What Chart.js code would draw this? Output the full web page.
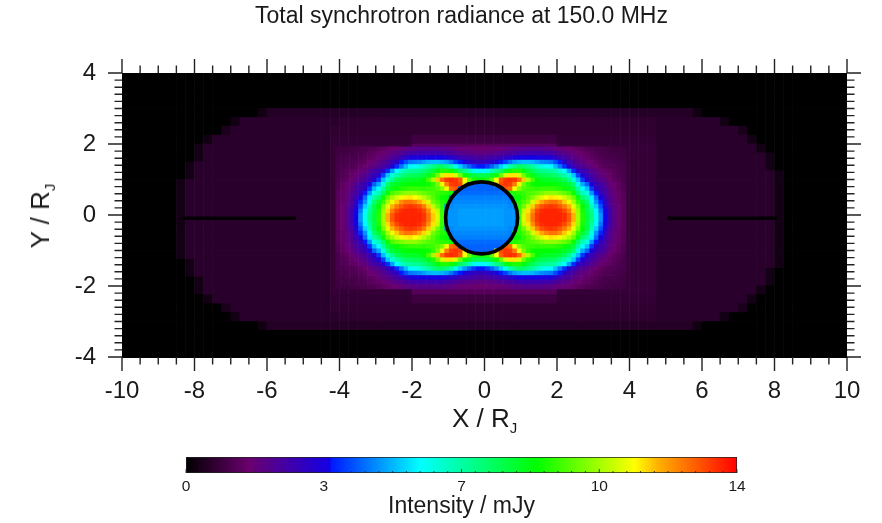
<!DOCTYPE html>
<html>
<head>
<meta charset="utf-8">
<title>Total synchrotron radiance</title>
<script src="https://cdn.jsdelivr.net/npm/chart.js@4/dist/chart.umd.min.js"></script>
<style>
  html, body { margin: 0; padding: 0; background: #fff; }
  #page { position: relative; width: 882px; height: 523px; overflow: hidden; font-family: "Liberation Sans", Arial, sans-serif; color: #1a1a1a; }
  canvas { position: absolute; left: 0; display: block; }
  .axis-label { position: absolute; font-size: 26px; line-height: 28px; white-space: nowrap; }
  .axis-label sub { font-size: 15px; line-height: 0; vertical-align: -6px; }
  #chartTitle { position: absolute; left: 0; width: 923px; top: 1px; text-align: center; font-size: 23px; line-height: 28px; }
  #xLabel { left: 452px; top: 404px; }
  #yLabel { left: 40px; top: 216px; transform: translate(-50%, -50%) rotate(-90deg); }
</style>
</head>
<body>
<div id="page">
  <canvas id="mapChart" width="882" height="440" style="top:0"></canvas>
  <canvas id="barChart" width="882" height="83" style="top:440px"></canvas>
  <div id="chartTitle">Total synchrotron radiance at 150.0 MHz</div>
  <div id="xLabel" class="axis-label">X / R<sub>J</sub></div>
  <div id="yLabel" class="axis-label">Y / R<sub>J</sub></div>
</div>
<script>
// ---- tick labels
const xTickLabels = [-10, -8, -6, -4, -2, 0, 2, 4, 6, 8, 10];
const yTickLabels = [-4, -2, 0, 2, 4];
const barTickValues = [0, 3.5, 7, 10.5, 14];
const barTickLabels = ['0', '3', '7', '10', '14'];

// ---- colour table (mJy -> rgb)
const stopValues = [0, 1.6, 3.65, 3.7, 5.95, 8.9, 11.4, 12, 14];
const stopColors = [[0,0,0], [106,0,110], [20,0,230], [0,25,255], [0,255,255], [0,255,0], [255,255,0], [255,176,0], [255,0,0]];

// ---- dark slits and planet outline
const slitLeftX = [-8.33, -5.2];
const slitRightX = [5.05, 8.08];
const slitY = [-0.09, -0.09];
const planetX = [-0.08];
const planetY = [-0.08];

// ---- whole map, 0.25 R_J cells, top row first. _ = cell is covered by the fine core grid
const _ = null;
const wideRows = [
[0,0,0,0,0,0,0,0,0,0,0,0,0,0,0,0,0,0,0,0,0,0,0,0,0,0,0,0,0,0,0,0,0,0,0,0,0,0,0,0,0,0,0,0,0,0,0,0,0,0,0,0,0,0,0,0,0,0,0,0,0,0,0,0,0,0,0,0,0,0,0,0,0,0,0,0,0,0,0,0],
[0,0,0,0,0,0,0,0,0,0,0,0,0,0,0,0,0,0,0,0,0,0,0,0,0,0,0,0,0,0,0,0,0,0,0,0,0,0,0,0,0,0,0,0,0,0,0,0,0,0,0,0,0,0,0,0,0,0,0,0,0,0,0,0,0,0,0,0,0,0,0,0,0,0,0,0,0,0,0,0],
[0,0,0,0,0,0,0,0,0,0,0,0,0,0,0,0,0,0,0,0,0,0,0,0,0,0,0,0,0,0,0,0,0,0,0,0,0,0,0,0,0,0,0,0,0,0,0,0,0,0,0,0,0,0,0,0,0,0,0,0,0,0,0,0,0,0,0,0,0,0,0,0,0,0,0,0,0,0,0,0],
[0,0,0,0,0,0,0,0,0,0,0,0,0,0,0,0,0,0,0,0,0,0,0,0,0,0,0,0,0,0,0,0,0,0,0,0,0,0,0,0,0,0,0,0,0,0,0,0,0,0,0,0,0,0,0,0,0,0,0,0,0,0,0,0,0,0,0,0,0,0,0,0,0,0,0,0,0,0,0,0],
[0,0,0,0,0,0,0,0,0,0,0,0,0,0,0,.25,.55,.55,.55,.55,.55,.55,.55,.55,.55,.55,.55,.55,.55,.55,.55,.55,.55,.55,.55,.55,.55,.55,.55,.55,.55,.55,.55,.55,.55,.55,.55,.55,.55,.55,.55,.55,.55,.55,.55,.55,.55,.55,.55,.55,.55,.55,.55,.25,0,0,0,0,0,0,0,0,0,0,0,0,0,0,0,0],
[0,0,0,0,0,0,0,0,0,0,0,0,.3,.62,.62,.62,.62,.62,.62,.62,.62,.62,.62,.62,.68,.68,.68,.68,.68,.68,.68,.68,.68,.68,.68,.68,.68,.68,.68,.68,.68,.68,.68,.68,.68,.68,.68,.68,.68,.68,.68,.68,.68,.68,.68,.68,.68,.68,.68,.62,.62,.62,.62,.62,.62,.62,.3,0,0,0,0,0,0,0,0,0,0,0,0,0],
[0,0,0,0,0,0,0,0,0,0,0,.4,.62,.62,.62,.62,.62,.62,.62,.62,.62,.62,.62,.72,.72,.72,.72,.72,.72,.72,.72,.72,.72,.72,.72,.72,.72,.72,.72,.72,.72,.72,.72,.72,.72,.72,.72,.72,.72,.72,.72,.72,.72,.72,.72,.72,.72,.72,.72,.62,.62,.62,.62,.62,.62,.62,.62,.62,.4,0,0,0,0,0,0,0,0,0,0,0],
[0,0,0,0,0,0,0,0,0,.25,.62,.62,.62,.62,.62,.62,.62,.62,.62,.62,.62,.62,.62,.75,.75,.75,.75,.75,.75,.75,.75,.75,.95,.95,.95,.95,.95,.95,.95,.95,.95,.95,.95,.95,.95,.95,.95,.95,.75,.75,.75,.75,.75,.75,.75,.75,.75,.75,.75,.62,.62,.62,.62,.62,.62,.62,.62,.62,.62,.3,0,0,0,0,0,0,0,0,0,0],
[0,0,0,0,0,0,0,0,.3,.62,.62,.62,.62,.62,.62,.62,.62,.62,.62,.62,.62,.62,.62,.8,.8,.8,.8,.8,.8,.8,.8,.8,1.3,1.3,1.3,1.3,1.3,1.3,1.3,1.3,1.3,1.3,1.3,1.3,1.3,1.3,1.3,1.3,.8,.8,.8,.8,.8,.8,.8,.8,.8,.8,.8,.62,.62,.62,.62,.62,.62,.62,.62,.62,.62,.62,.3,0,0,0,0,0,0,0,0,0],
[0,0,0,0,0,0,0,0,.3,.62,.62,.62,.62,.62,.62,.62,.62,.62,.62,.62,.62,.62,.62,.78,_,_,_,_,_,_,_,_,_,_,_,_,_,_,_,_,_,_,_,_,_,_,_,_,_,_,_,_,_,_,_,.85,.78,.78,.78,.62,.62,.62,.62,.62,.62,.62,.62,.62,.62,.62,.62,.3,0,0,0,0,0,0,0,0],
[0,0,0,0,0,0,0,.3,.62,.62,.62,.62,.62,.62,.62,.62,.62,.62,.62,.62,.62,.62,.62,.78,_,_,_,_,_,_,_,_,_,_,_,_,_,_,_,_,_,_,_,_,_,_,_,_,_,_,_,_,_,_,_,.85,.78,.78,.78,.62,.62,.62,.62,.62,.62,.62,.62,.62,.62,.62,.62,.3,0,0,0,0,0,0,0,0],
[0,0,0,0,0,0,0,.3,.62,.62,.62,.62,.62,.62,.62,.62,.62,.62,.62,.62,.62,.62,.62,.78,_,_,_,_,_,_,_,_,_,_,_,_,_,_,_,_,_,_,_,_,_,_,_,_,_,_,_,_,_,_,_,.85,.78,.78,.78,.62,.62,.62,.62,.62,.62,.62,.62,.62,.62,.62,.62,.62,.3,0,0,0,0,0,0,0],
[0,0,0,0,0,0,.3,.62,.62,.62,.62,.62,.62,.62,.62,.62,.62,.62,.62,.62,.62,.62,.62,.78,_,_,_,_,_,_,_,_,_,_,_,_,_,_,_,_,_,_,_,_,_,_,_,_,_,_,_,_,_,_,_,.85,.78,.78,.78,.62,.62,.62,.62,.62,.62,.62,.62,.62,.62,.62,.62,.62,.3,0,0,0,0,0,0,0],
[0,0,0,0,0,0,.3,.62,.62,.62,.62,.62,.62,.62,.62,.62,.62,.62,.62,.62,.62,.62,.62,.78,_,_,_,_,_,_,_,_,_,_,_,_,_,_,_,_,_,_,_,_,_,_,_,_,_,_,_,_,_,_,_,.85,.78,.78,.78,.62,.62,.62,.62,.62,.62,.62,.62,.62,.62,.62,.62,.62,.3,0,0,0,0,0,0,0],
[0,0,0,0,0,0,.3,.62,.62,.62,.62,.62,.62,.62,.62,.62,.62,.62,.62,.62,.62,.62,.62,.78,_,_,_,_,_,_,_,_,_,_,_,_,_,_,_,_,_,_,_,_,_,_,_,_,_,_,_,_,_,_,_,.85,.78,.78,.78,.62,.62,.62,.62,.62,.62,.62,.62,.62,.62,.62,.62,.62,.3,0,0,0,0,0,0,0],
[0,0,0,0,0,0,.3,.62,.62,.62,.62,.62,.62,.62,.62,.62,.62,.62,.62,.62,.62,.62,.62,.78,_,_,_,_,_,_,_,_,_,_,_,_,_,_,_,_,_,_,_,_,_,_,_,_,_,_,_,_,_,_,_,.85,.78,.78,.78,.62,.62,.62,.62,.62,.62,.62,.62,.62,.62,.62,.62,.62,.3,0,0,0,0,0,0,0],
[0,0,0,0,0,0,.3,.62,.62,.62,.62,.62,.62,.62,.62,.62,.62,.62,.62,.62,.62,.62,.62,.78,_,_,_,_,_,_,_,_,_,_,_,_,_,_,_,_,_,_,_,_,_,_,_,_,_,_,_,_,_,_,_,.85,.78,.78,.78,.62,.62,.62,.62,.62,.62,.62,.62,.62,.62,.62,.62,.62,.3,0,0,0,0,0,0,0],
[0,0,0,0,0,0,.3,.62,.62,.62,.62,.62,.62,.62,.62,.62,.62,.62,.62,.62,.62,.62,.62,.78,_,_,_,_,_,_,_,_,_,_,_,_,_,_,_,_,_,_,_,_,_,_,_,_,_,_,_,_,_,_,_,.85,.78,.78,.78,.62,.62,.62,.62,.62,.62,.62,.62,.62,.62,.62,.62,.62,.3,0,0,0,0,0,0,0],
[0,0,0,0,0,0,.3,.62,.62,.62,.62,.62,.62,.62,.62,.62,.62,.62,.62,.62,.62,.62,.62,.78,_,_,_,_,_,_,_,_,_,_,_,_,_,_,_,_,_,_,_,_,_,_,_,_,_,_,_,_,_,_,_,.85,.78,.78,.78,.62,.62,.62,.62,.62,.62,.62,.62,.62,.62,.62,.62,.62,.3,0,0,0,0,0,0,0],
[0,0,0,0,0,0,.3,.62,.62,.62,.62,.62,.62,.62,.62,.62,.62,.62,.62,.62,.62,.62,.62,.78,_,_,_,_,_,_,_,_,_,_,_,_,_,_,_,_,_,_,_,_,_,_,_,_,_,_,_,_,_,_,_,.85,.78,.78,.78,.62,.62,.62,.62,.62,.62,.62,.62,.62,.62,.62,.62,.62,.3,0,0,0,0,0,0,0],
[0,0,0,0,0,0,.3,.62,.62,.62,.62,.62,.62,.62,.62,.62,.62,.62,.62,.62,.62,.62,.62,.78,_,_,_,_,_,_,_,_,_,_,_,_,_,_,_,_,_,_,_,_,_,_,_,_,_,_,_,_,_,_,_,.85,.78,.78,.78,.62,.62,.62,.62,.62,.62,.62,.62,.62,.62,.62,.62,.62,.3,0,0,0,0,0,0,0],
[0,0,0,0,0,0,0,.3,.62,.62,.62,.62,.62,.62,.62,.62,.62,.62,.62,.62,.62,.62,.62,.78,_,_,_,_,_,_,_,_,_,_,_,_,_,_,_,_,_,_,_,_,_,_,_,_,_,_,_,_,_,_,_,.85,.78,.78,.78,.62,.62,.62,.62,.62,.62,.62,.62,.62,.62,.62,.62,.62,.3,0,0,0,0,0,0,0],
[0,0,0,0,0,0,0,.3,.62,.62,.62,.62,.62,.62,.62,.62,.62,.62,.62,.62,.62,.62,.62,.78,_,_,_,_,_,_,_,_,_,_,_,_,_,_,_,_,_,_,_,_,_,_,_,_,_,_,_,_,_,_,_,.85,.78,.78,.78,.62,.62,.62,.62,.62,.62,.62,.62,.62,.62,.62,.62,.3,0,0,0,0,0,0,0,0],
[0,0,0,0,0,0,0,0,.3,.62,.62,.62,.62,.62,.62,.62,.62,.62,.62,.62,.62,.62,.62,.78,_,_,_,_,_,_,_,_,_,_,_,_,_,_,_,_,_,_,_,_,_,_,_,_,_,_,_,_,_,_,_,.85,.78,.78,.78,.62,.62,.62,.62,.62,.62,.62,.62,.62,.62,.62,.62,.3,0,0,0,0,0,0,0,0],
[0,0,0,0,0,0,0,0,.3,.62,.62,.62,.62,.62,.62,.62,.62,.62,.62,.62,.62,.62,.62,.8,.8,.8,.8,.8,.8,.8,.8,.8,1.3,1.3,1.3,1.3,1.3,1.3,1.3,1.3,1.3,1.3,1.3,1.3,1.3,1.3,1.3,1.3,.8,.8,.8,.8,.8,.8,.8,.8,.8,.8,.8,.62,.62,.62,.62,.62,.62,.62,.62,.62,.62,.62,.3,0,0,0,0,0,0,0,0,0],
[0,0,0,0,0,0,0,0,0,.25,.62,.62,.62,.62,.62,.62,.62,.62,.62,.62,.62,.62,.62,.75,.75,.75,.75,.75,.75,.75,.75,.75,.95,.95,.95,.95,.95,.95,.95,.95,.95,.95,.95,.95,.95,.95,.95,.95,.75,.75,.75,.75,.75,.75,.75,.75,.75,.75,.75,.62,.62,.62,.62,.62,.62,.62,.62,.62,.62,.3,0,0,0,0,0,0,0,0,0,0],
[0,0,0,0,0,0,0,0,0,0,0,.4,.62,.62,.62,.62,.62,.62,.62,.62,.62,.62,.62,.72,.72,.72,.72,.72,.72,.72,.72,.72,.72,.72,.72,.72,.72,.72,.72,.72,.72,.72,.72,.72,.72,.72,.72,.72,.72,.72,.72,.72,.72,.72,.72,.72,.72,.72,.72,.62,.62,.62,.62,.62,.62,.62,.62,.62,.4,0,0,0,0,0,0,0,0,0,0,0],
[0,0,0,0,0,0,0,0,0,0,0,0,.3,.62,.62,.62,.62,.62,.62,.62,.62,.62,.62,.62,.68,.68,.68,.68,.68,.68,.68,.68,.68,.68,.68,.68,.68,.68,.68,.68,.68,.68,.68,.68,.68,.68,.68,.68,.68,.68,.68,.68,.68,.68,.68,.68,.68,.68,.68,.62,.62,.62,.62,.62,.62,.62,.3,0,0,0,0,0,0,0,0,0,0,0,0,0],
[0,0,0,0,0,0,0,0,0,0,0,0,0,0,0,.25,.55,.55,.55,.55,.55,.55,.55,.55,.55,.55,.55,.55,.55,.55,.55,.55,.55,.55,.55,.55,.55,.55,.55,.55,.55,.55,.55,.55,.55,.55,.55,.55,.55,.55,.55,.55,.55,.55,.55,.55,.55,.55,.55,.55,.55,.55,.55,.25,0,0,0,0,0,0,0,0,0,0,0,0,0,0,0,0],
[0,0,0,0,0,0,0,0,0,0,0,0,0,0,0,0,0,0,0,0,0,0,0,0,0,0,0,0,0,0,0,0,0,0,0,0,0,0,0,0,0,0,0,0,0,0,0,0,0,0,0,0,0,0,0,0,0,0,0,0,0,0,0,0,0,0,0,0,0,0,0,0,0,0,0,0,0,0,0,0],
[0,0,0,0,0,0,0,0,0,0,0,0,0,0,0,0,0,0,0,0,0,0,0,0,0,0,0,0,0,0,0,0,0,0,0,0,0,0,0,0,0,0,0,0,0,0,0,0,0,0,0,0,0,0,0,0,0,0,0,0,0,0,0,0,0,0,0,0,0,0,0,0,0,0,0,0,0,0,0,0],
[0,0,0,0,0,0,0,0,0,0,0,0,0,0,0,0,0,0,0,0,0,0,0,0,0,0,0,0,0,0,0,0,0,0,0,0,0,0,0,0,0,0,0,0,0,0,0,0,0,0,0,0,0,0,0,0,0,0,0,0,0,0,0,0,0,0,0,0,0,0,0,0,0,0,0,0,0,0,0,0]
];

// ---- bright core, 0.125 R_J cells, top row first
const coreRows = [
[.95,.95,.95,1,1,1.1,1.1,1.2,1.2,1.3,1.4,1.5,1.6,1.7,1.8,1.8,2,2,2.1,2.1,2.1,2.1,2.1,2,2,1.9,1.8,1.7,1.7,1.7,1.6,1.6, 1.6,1.6,1.7,1.7,1.7,1.8,1.9,2,2,2.1,2.1,2.1,2.1,2.1,2,2,1.8,1.8,1.7,1.6,1.5,1.4,1.3,1.2,1.2,1.1,1.1,1,1,.95,.95,.95],
[.95,1,1,1,1.1,1.1,1.2,1.3,1.4,1.5,1.6,1.8,1.9,2.1,2.2,2.4,2.6,2.6,2.7,2.7,2.7,2.7,2.7,2.7,2.5,2.4,2.3,2.2,2.1,2,2,1.9, 1.9,2,2,2.1,2.2,2.3,2.4,2.5,2.7,2.7,2.7,2.7,2.7,2.7,2.6,2.6,2.4,2.2,2.1,1.9,1.8,1.6,1.5,1.4,1.3,1.2,1.1,1.1,1,1,1,.95],
[1,1,1.1,1.1,1.1,1.2,1.3,1.4,1.5,1.7,1.9,2,2.3,2.5,2.8,3.1,3.4,3.5,3.5,3.6,3.6,3.6,3.6,3.6,3.4,3.2,3,2.8,2.7,2.6,2.5,2.4, 2.4,2.5,2.6,2.7,2.8,3,3.2,3.4,3.6,3.6,3.6,3.6,3.6,3.5,3.5,3.4,3.1,2.8,2.5,2.3,2,1.9,1.7,1.5,1.4,1.3,1.2,1.1,1.1,1.1,1,1],
[1,1.1,1.1,1.2,1.2,1.3,1.4,1.6,1.7,1.9,2.1,2.4,2.7,3.1,3.7,4.2,4.6,4.7,4.8,5,5.2,5.3,5.3,5.2,5,4.6,4.1,3.7,3.4,3.2,3,2.9, 2.9,3,3.2,3.4,3.7,4.1,4.6,5,5.2,5.3,5.3,5.2,5,4.8,4.7,4.6,4.2,3.7,3.1,2.7,2.4,2.1,1.9,1.7,1.6,1.4,1.3,1.2,1.2,1.1,1.1,1],
[1.1,1.1,1.2,1.2,1.3,1.4,1.6,1.8,2,2.2,2.5,2.8,3.3,3.9,4.6,5.3,5.9,6.1,6.3,6.6,7,7.4,7.7,7.8,7.4,6.9,6.2,5.5,4.9,4.4,4,3.7, 3.7,4,4.4,4.9,5.5,6.2,6.9,7.4,7.8,7.7,7.4,7,6.6,6.3,6.1,5.9,5.3,4.6,3.9,3.3,2.8,2.5,2.2,2,1.8,1.6,1.4,1.3,1.2,1.2,1.1,1.1],
[1.1,1.2,1.3,1.4,1.5,1.7,1.9,2.2,2.5,2.8,3.2,3.9,5,6,6.5,6.9,7.1,7.2,7.3,7.5,7.9,8.3,8.8,9.2,9.2,9,8.5,7.8,7.3,6.7,6.2,5.9, 5.9,6.2,6.7,7.3,7.8,8.5,9,9.2,9.2,8.8,8.3,7.9,7.5,7.3,7.2,7.1,6.9,6.5,6,5,3.9,3.2,2.8,2.5,2.2,1.9,1.7,1.5,1.4,1.3,1.2,1.1],
[1.1,1.2,1.3,1.5,1.7,1.9,2.2,2.5,2.9,3.3,4.1,5.4,6.4,6.9,7.3,7.7,7.8,7.9,8,8.2,8.6,9.2,10,11,11.6,11.6,11,10,9,8.4,8.1,8, 8,8.1,8.4,9,10,11,11.6,11.6,11,10,9.2,8.6,8.2,8,7.9,7.8,7.7,7.3,6.9,6.4,5.4,4.1,3.3,2.9,2.5,2.2,1.9,1.7,1.5,1.3,1.2,1.1],
[1.1,1.3,1.4,1.6,1.9,2.1,2.4,2.8,3.2,4,5.3,6.4,7.2,8,8.2,8.4,8.5,8.5,8.6,8.9,9.6,10.6,11.8,12.8,13.4,13.5,13.4,13,11.4,9.8,9.2,9, 9,9.2,9.8,11.4,13,13.4,13.5,13.4,12.8,11.8,10.6,9.6,8.9,8.6,8.5,8.5,8.4,8.2,8,7.2,6.4,5.3,4,3.2,2.8,2.4,2.1,1.9,1.6,1.4,1.3,1.1],
[1.2,1.4,1.6,1.85,2.15,2.5,2.9,3.4,4.4,5.1,6.3,7.6,8.3,8.5,8.7,8.8,8.9,8.9,8.9,8.9,9,9.4,10,11.2,12.6,13.3,13.4,13.2,11,4.4,4.4,4.4, 4.4,4.4,4.4,11,13.2,13.4,13.3,12.6,11.2,10,9.4,9,8.9,8.9,8.9,8.9,8.8,8.7,8.5,8.3,7.6,6.3,5.1,4.4,3.4,2.9,2.5,2.15,1.85,1.6,1.4,1.2],
[1.2,1.4,1.65,2,2.35,2.7,3.1,4,5.3,6,7.1,8.2,8.6,9,9.2,9.3,9.4,9.4,9.4,9.3,9.4,9.5,9.7,10.2,11.3,12.8,13,4.4,4.4,4.4,4.4,4.4, 4.4,4.4,4.4,4.4,4.4,13,12.8,11.3,10.2,9.7,9.5,9.4,9.3,9.4,9.4,9.4,9.3,9.2,9,8.6,8.2,7.1,6,5.3,4,3.1,2.7,2.35,2,1.65,1.4,1.2],
[1.3,1.5,1.75,2.1,2.5,2.95,3.7,4.9,6.2,6.8,7.8,9,9.6,9.9,10.1,10.3,10.3,10.3,10.1,9.9,9.7,9.6,9.4,9.3,9.2,9,4.5,4.5,4.5,4.5,4.5,4.5, 4.5,4.5,4.5,4.5,4.5,4.5,9,9.2,9.3,9.4,9.6,9.7,9.9,10.1,10.3,10.3,10.3,10.1,9.9,9.6,9,7.8,6.8,6.2,4.9,3.7,2.95,2.5,2.1,1.75,1.5,1.3],
[1.3,1.5,1.8,2.25,2.75,3.5,4.5,5.8,7,7.6,9,9.9,10.5,11,11.3,11.5,11.6,11.4,11.1,10.7,10.2,9.7,9.3,9,8.9,4.6,4.7,4.7,4.7,4.7,4.7,4.7, 4.7,4.7,4.7,4.7,4.7,4.7,4.6,8.9,9,9.3,9.7,10.2,10.7,11.1,11.4,11.6,11.5,11.3,11,10.5,9.9,9,7.6,7,5.8,4.5,3.5,2.75,2.25,1.8,1.5,1.3],
[1.3,1.5,1.85,2.3,2.95,3.8,4.9,6.2,7.6,8.4,9.4,10.5,11.2,11.8,12.4,12.7,12.7,12.5,12.1,11.7,11,10,9.6,9.2,9,4.7,4.8,4.8,4.8,4.8,4.8,4.8, 4.8,4.8,4.8,4.8,4.8,4.8,4.7,9,9.2,9.6,10,11,11.7,12.1,12.5,12.7,12.7,12.4,11.8,11.2,10.5,9.4,8.4,7.6,6.2,4.9,3.8,2.95,2.3,1.85,1.5,1.3],
[1.35,1.6,2,2.5,3.2,4.2,5.5,6.8,8.1,8.9,10.1,11.1,12,12.6,13,13.3,13.4,13.3,13.1,12.6,11.8,10.8,10,9.3,4.8,4.8,4.9,4.9,4.9,4.9,4.9,4.9, 4.9,4.9,4.9,4.9,4.9,4.9,4.8,4.8,9.3,10,10.8,11.8,12.6,13.1,13.3,13.4,13.3,13,12.6,12,11.1,10.1,8.9,8.1,6.8,5.5,4.2,3.2,2.5,2,1.6,1.35],
[1.35,1.6,2.05,2.65,3.5,4.6,5.9,7.2,8,9.1,10.4,11.7,12.6,13.2,13.5,13.6,13.6,13.6,13.5,13.2,12.4,11.6,10.8,9.4,4.9,4.9,4.9,5,5,5,5,5, 5,5,5,5,5,4.9,4.9,4.9,9.4,10.8,11.6,12.4,13.2,13.5,13.6,13.6,13.6,13.5,13.2,12.6,11.7,10.4,9.1,8,7.2,5.9,4.6,3.5,2.65,2.05,1.6,1.35],
[1.35,1.6,2.05,2.7,3.65,4.9,6.2,7.4,8.2,9.2,10.5,12,13,13.5,13.6,13.6,13.6,13.6,13.6,13.4,12.7,11.8,11,9.5,4.9,4.9,4.9,5,5,5,5,5, 5,5,5,5,5,4.9,4.9,4.9,9.5,11,11.8,12.7,13.4,13.6,13.6,13.6,13.6,13.6,13.5,13,12,10.5,9.2,8.2,7.4,6.2,4.9,3.65,2.7,2.05,1.6,1.35],
[1.35,1.6,2.05,2.7,3.65,4.9,6.2,7.4,8.2,9.2,10.5,12,13,13.5,13.6,13.6,13.6,13.6,13.6,13.4,12.7,11.8,11,9.5,4.9,4.9,4.9,5,5,5,5,5, 5,5,5,5,5,4.9,4.9,4.9,9.5,11,11.8,12.7,13.4,13.6,13.6,13.6,13.6,13.6,13.5,13,12,10.5,9.2,8.2,7.4,6.2,4.9,3.65,2.7,2.05,1.6,1.35],
[1.35,1.6,2.05,2.65,3.5,4.6,5.9,7.2,8,9.1,10.4,11.7,12.6,13.2,13.5,13.6,13.6,13.6,13.5,13.2,12.4,11.6,10.8,9.4,4.9,4.9,4.9,5,5,5,5,5, 5,5,5,5,5,4.9,4.9,4.9,9.4,10.8,11.6,12.4,13.2,13.5,13.6,13.6,13.6,13.5,13.2,12.6,11.7,10.4,9.1,8,7.2,5.9,4.6,3.5,2.65,2.05,1.6,1.35],
[1.35,1.6,2,2.5,3.2,4.2,5.5,6.8,8.1,8.9,10.1,11.1,12,12.6,13,13.3,13.4,13.3,13.1,12.6,11.8,10.8,10,9.3,4.8,4.8,4.9,4.9,4.9,4.9,4.9,4.9, 4.9,4.9,4.9,4.9,4.9,4.9,4.8,4.8,9.3,10,10.8,11.8,12.6,13.1,13.3,13.4,13.3,13,12.6,12,11.1,10.1,8.9,8.1,6.8,5.5,4.2,3.2,2.5,2,1.6,1.35],
[1.3,1.5,1.85,2.3,2.95,3.8,4.9,6.2,7.6,8.4,9.4,10.5,11.2,11.8,12.4,12.7,12.7,12.5,12.1,11.7,11,10,9.6,9.2,9,4.7,4.8,4.8,4.8,4.8,4.8,4.8, 4.8,4.8,4.8,4.8,4.8,4.8,4.7,9,9.2,9.6,10,11,11.7,12.1,12.5,12.7,12.7,12.4,11.8,11.2,10.5,9.4,8.4,7.6,6.2,4.9,3.8,2.95,2.3,1.85,1.5,1.3],
[1.3,1.5,1.8,2.25,2.75,3.5,4.5,5.8,7,7.6,9,9.9,10.5,11,11.3,11.5,11.6,11.4,11.1,10.7,10.2,9.7,9.3,9,8.9,4.6,4.7,4.7,4.7,4.7,4.7,4.7, 4.7,4.7,4.7,4.7,4.7,4.7,4.6,8.9,9,9.3,9.7,10.2,10.7,11.1,11.4,11.6,11.5,11.3,11,10.5,9.9,9,7.6,7,5.8,4.5,3.5,2.75,2.25,1.8,1.5,1.3],
[1.3,1.5,1.75,2.1,2.5,2.95,3.7,4.9,6.2,6.8,7.8,9,9.6,9.9,10.1,10.3,10.3,10.3,10.1,9.9,9.7,9.6,9.4,9.3,9.2,9,4.5,4.5,4.5,4.5,4.5,4.5, 4.5,4.5,4.5,4.5,4.5,4.5,9,9.2,9.3,9.4,9.6,9.7,9.9,10.1,10.3,10.3,10.3,10.1,9.9,9.6,9,7.8,6.8,6.2,4.9,3.7,2.95,2.5,2.1,1.75,1.5,1.3],
[1.2,1.4,1.65,2,2.35,2.7,3.1,4,5.3,6,7.1,8.2,8.6,9,9.2,9.3,9.4,9.4,9.4,9.3,9.4,9.5,9.7,10.2,11.3,12.8,13,4.4,4.4,4.4,4.4,4.4, 4.4,4.4,4.4,4.4,4.4,13,12.8,11.3,10.2,9.7,9.5,9.4,9.3,9.4,9.4,9.4,9.3,9.2,9,8.6,8.2,7.1,6,5.3,4,3.1,2.7,2.35,2,1.65,1.4,1.2],
[1.2,1.4,1.6,1.85,2.15,2.5,2.9,3.4,4.4,5.1,6.3,7.6,8.3,8.5,8.7,8.8,8.9,8.9,8.9,8.9,9,9.4,10,11.2,12.6,13.3,13.4,13.2,11,4.4,4.4,4.4, 4.4,4.4,4.4,11,13.2,13.4,13.3,12.6,11.2,10,9.4,9,8.9,8.9,8.9,8.9,8.8,8.7,8.5,8.3,7.6,6.3,5.1,4.4,3.4,2.9,2.5,2.15,1.85,1.6,1.4,1.2],
[1.1,1.3,1.4,1.6,1.9,2.1,2.4,2.8,3.2,4,5.3,6.4,7.2,8,8.2,8.4,8.5,8.5,8.6,8.9,9.6,10.6,11.8,12.8,13.4,13.5,13.4,13,11.4,9.8,9.2,9, 9,9.2,9.8,11.4,13,13.4,13.5,13.4,12.8,11.8,10.6,9.6,8.9,8.6,8.5,8.5,8.4,8.2,8,7.2,6.4,5.3,4,3.2,2.8,2.4,2.1,1.9,1.6,1.4,1.3,1.1],
[1.1,1.2,1.3,1.5,1.7,1.9,2.2,2.5,2.9,3.3,4.1,5.4,6.4,6.9,7.3,7.7,7.8,7.9,8,8.2,8.6,9.2,10,11,11.6,11.6,11,10,9,8.4,8.1,8, 8,8.1,8.4,9,10,11,11.6,11.6,11,10,9.2,8.6,8.2,8,7.9,7.8,7.7,7.3,6.9,6.4,5.4,4.1,3.3,2.9,2.5,2.2,1.9,1.7,1.5,1.3,1.2,1.1],
[1.1,1.2,1.3,1.4,1.5,1.7,1.9,2.2,2.5,2.8,3.2,3.9,5,6,6.5,6.9,7.1,7.2,7.3,7.5,7.9,8.3,8.8,9.2,9.2,9,8.5,7.8,7.3,6.7,6.2,5.9, 5.9,6.2,6.7,7.3,7.8,8.5,9,9.2,9.2,8.8,8.3,7.9,7.5,7.3,7.2,7.1,6.9,6.5,6,5,3.9,3.2,2.8,2.5,2.2,1.9,1.7,1.5,1.4,1.3,1.2,1.1],
[1.1,1.1,1.2,1.2,1.3,1.4,1.6,1.8,2,2.2,2.5,2.8,3.3,3.9,4.6,5.3,5.9,6.1,6.3,6.6,7,7.4,7.7,7.8,7.4,6.9,6.2,5.5,4.9,4.4,4,3.7, 3.7,4,4.4,4.9,5.5,6.2,6.9,7.4,7.8,7.7,7.4,7,6.6,6.3,6.1,5.9,5.3,4.6,3.9,3.3,2.8,2.5,2.2,2,1.8,1.6,1.4,1.3,1.2,1.2,1.1,1.1],
[1,1.1,1.1,1.2,1.2,1.3,1.4,1.6,1.7,1.9,2.1,2.4,2.7,3.1,3.7,4.2,4.6,4.7,4.8,5,5.2,5.3,5.3,5.2,5,4.6,4.1,3.7,3.4,3.2,3,2.9, 2.9,3,3.2,3.4,3.7,4.1,4.6,5,5.2,5.3,5.3,5.2,5,4.8,4.7,4.6,4.2,3.7,3.1,2.7,2.4,2.1,1.9,1.7,1.6,1.4,1.3,1.2,1.2,1.1,1.1,1],
[1,1,1.1,1.1,1.1,1.2,1.3,1.4,1.5,1.7,1.9,2,2.3,2.5,2.8,3.1,3.4,3.5,3.5,3.6,3.6,3.6,3.6,3.6,3.4,3.2,3,2.8,2.7,2.6,2.5,2.4, 2.4,2.5,2.6,2.7,2.8,3,3.2,3.4,3.6,3.6,3.6,3.6,3.6,3.5,3.5,3.4,3.1,2.8,2.5,2.3,2,1.9,1.7,1.5,1.4,1.3,1.2,1.1,1.1,1.1,1,1],
[.95,1,1,1,1.1,1.1,1.2,1.3,1.4,1.5,1.6,1.8,1.9,2.1,2.2,2.4,2.6,2.6,2.7,2.7,2.7,2.7,2.7,2.7,2.5,2.4,2.3,2.2,2.1,2,2,1.9, 1.9,2,2,2.1,2.2,2.3,2.4,2.5,2.7,2.7,2.7,2.7,2.7,2.7,2.6,2.6,2.4,2.2,2.1,1.9,1.8,1.6,1.5,1.4,1.3,1.2,1.1,1.1,1,1,1,.95],
[.95,.95,.95,1,1,1.1,1.1,1.2,1.2,1.3,1.4,1.5,1.6,1.7,1.8,1.8,2,2,2.1,2.1,2.1,2.1,2.1,2,2,1.9,1.8,1.7,1.7,1.7,1.6,1.6, 1.6,1.6,1.7,1.7,1.7,1.8,1.9,2,2,2.1,2.1,2.1,2.1,2.1,2,2,1.8,1.8,1.7,1.6,1.5,1.4,1.3,1.2,1.2,1.1,1.1,1,1,.95,.95,.95]
];

// colour for a value
function colorFor(v) {
    let i = 0;
    while (i < stopValues.length - 2 && v > stopValues[i + 1]) i++;
    const t = Math.min(1, (v - stopValues[i]) / (stopValues[i + 1] - stopValues[i]));
    const a = stopColors[i], b = stopColors[i + 1];
    return `rgb(${Math.round(a[0] + (b[0] - a[0]) * t)},${Math.round(a[1] + (b[1] - a[1]) * t)},${Math.round(a[2] + (b[2] - a[2]) * t)})`;
}

// turn a table of rows into scatter points, first cell centre + cell size
function buildCells(rows, x0, y0, step) {
    const points = [], colors = [];
    rows.forEach((row, r) => {
        row.forEach((v, c) => {
            if (v === null) return;
            points.push({ x: x0 + c * step, y: y0 - r * step });
            colors.push(colorFor(v));
        });
    });
    return { points, colors };
}

const wideCells = buildCells(wideRows, -9.875, 3.875, 0.25);
const coreCells = buildCells(coreRows, -4.0375, 1.8575, 0.125);

function cellDataset(cells, radius, order) {
    return {
        type: 'scatter',
        data: cells.points,
        pointStyle: 'rect',
        pointRadius: radius,
        pointBorderWidth: 0,
        pointBackgroundColor: cells.colors,
        order: order
    };
}

function lineDataset(xs, ys) {
    return {
        type: 'scatter',
        data: xs.map((x, i) => ({ x: x, y: ys[i] })),
        showLine: true,
        borderColor: '#050003',
        borderWidth: 3.5,
        pointRadius: 0,
        order: 3
    };
}

// tick marks of different lengths on all four sides
const frameTicks = {
    id: 'frameTicks',
    afterDraw(chart) {
        const { ctx, chartArea: a, scales } = chart;
        ctx.save();
        ctx.strokeStyle = '#222';
        ctx.lineWidth = 1.4;
        ctx.beginPath();
        scales.x.ticks.forEach(t => {
            const px = scales.x.getPixelForValue(t.value);
            const len = xTickLabels.includes(Math.round(t.value * 10) / 10) ? 14 : 7.5;
            ctx.moveTo(px, a.bottom); ctx.lineTo(px, a.bottom + len);
            ctx.moveTo(px, a.top); ctx.lineTo(px, a.top - len);
        });
        scales.y.ticks.forEach(t => {
            const py = scales.y.getPixelForValue(t.value);
            const len = yTickLabels.includes(Math.round(t.value * 10) / 10) ? 14 : 7.5;
            ctx.moveTo(a.left, py); ctx.lineTo(a.left - len, py);
            ctx.moveTo(a.right, py); ctx.lineTo(a.right + len, py);
        });
        ctx.stroke();
        ctx.restore();
    }
};

new Chart(document.getElementById('mapChart'), {
    type: 'scatter',
    data: {
        datasets: [
            cellDataset(wideCells, 6.83, 5),
            cellDataset(coreCells, 3.63, 4),
            lineDataset(slitLeftX, slitY),
            lineDataset(slitRightX, slitY),
            {
                type: 'scatter',
                data: [{ x: planetX[0], y: planetY[0] }],
                pointStyle: 'circle',
                pointRadius: 36,
                pointBorderWidth: 3.6,
                pointBorderColor: '#000',
                pointBackgroundColor: 'rgba(0,0,0,0)',
                clip: false,
                order: 1
            }
        ]
    },
    options: {
        responsive: false,
        animation: false,
        events: [],
        layout: { autoPadding: false, padding: { left: 0, right: 35, top: 73, bottom: 0 } },
        plugins: {
            legend: { display: false },
            tooltip: { enabled: false }
        },
        scales: {
            x: {
                type: 'linear',
                min: -10, max: 10,
                afterFit(scale) { scale.height = 83; },
                grid: { display: false, drawTicks: false },
                border: { display: true, color: '#000' },
                ticks: {
                    stepSize: 0.5,
                    autoSkip: false,
                    maxRotation: 0,
                    padding: 20,
                    color: '#1a1a1a',
                    font: { family: '"Liberation Sans"', size: 24 },
                    callback: v => xTickLabels.includes(Math.round(v * 10) / 10) ? String(Math.round(v)) : ''
                }
            },
            y: {
                type: 'linear',
                min: -4, max: 4,
                afterFit(scale) { scale.width = 122; },
                grid: { display: false, drawTicks: false },
                border: { display: true, color: '#000' },
                ticks: {
                    stepSize: 0.2,
                    autoSkip: false,
                    padding: 26,
                    color: '#1a1a1a',
                    font: { family: '"Liberation Sans"', size: 24 },
                    callback: v => yTickLabels.includes(Math.round(v * 10) / 10) ? String(Math.round(v)) : ''
                }
            }
        }
    },
    plugins: [frameTicks]
});

// colour bar: one floating bar from 0 to 14 painted with the colour table
const barTicks = {
    id: 'barTicks',
    afterDraw(chart) {
        const { ctx, chartArea: a, scales } = chart;
        ctx.save();
        ctx.strokeStyle = 'rgba(30,30,30,0.8)';
        ctx.lineWidth = 1;
        ctx.beginPath();
        for (let k = 0; k <= 40; k++) {
            const px = scales.x.getPixelForValue(k * 0.35);
            ctx.moveTo(px, a.bottom);
            ctx.lineTo(px, a.bottom - (k % 10 === 0 ? 4 : 2));
        }
        ctx.stroke();
        ctx.restore();
    }
};

function barGradient(context) {
    const { chart } = context;
    if (!chart.chartArea) return '#000';
    const x = chart.scales.x;
    const g = chart.ctx.createLinearGradient(x.getPixelForValue(0), 0, x.getPixelForValue(14), 0);
    stopValues.forEach((v, i) => {
        const c = stopColors[i];
        g.addColorStop(v / 14, `rgb(${c[0]},${c[1]},${c[2]})`);
    });
    return g;
}

new Chart(document.getElementById('barChart'), {
    type: 'bar',
    data: {
        labels: ['Intensity'],
        datasets: [{
            data: [[0, 14]],
            backgroundColor: barGradient,
            borderColor: '#222',
            borderWidth: 1,
            borderSkipped: false,
            barPercentage: 1,
            categoryPercentage: 1
        }]
    },
    options: {
        indexAxis: 'y',
        responsive: false,
        animation: false,
        events: [],
        layout: { autoPadding: false, padding: { left: 186, right: 145, top: 17, bottom: 0 } },
        plugins: { legend: { display: false }, tooltip: { enabled: false } },
        scales: {
            x: {
                type: 'linear',
                min: 0, max: 14,
                afterFit(scale) { scale.height = 50; },
                afterBuildTicks(scale) { scale.ticks = barTickValues.map(v => ({ value: v })); },
                grid: { display: false, drawTicks: false },
                border: { display: false },
                ticks: {
                    autoSkip: false,
                    maxRotation: 0,
                    padding: 4,
                    color: '#1a1a1a',
                    font: { family: '"Liberation Sans"', size: 15.5 },
                    callback: (v, i) => barTickLabels[i]
                },
                title: {
                    display: true,
                    text: 'Intensity / mJy',
                    color: '#1a1a1a',
                    font: { family: '"Liberation Sans"', size: 23 },
                    padding: { top: 0, bottom: 3 }
                }
            },
            y: { display: false }
        }
    },
    plugins: [barTicks]
});
</script>
</body>
</html>
